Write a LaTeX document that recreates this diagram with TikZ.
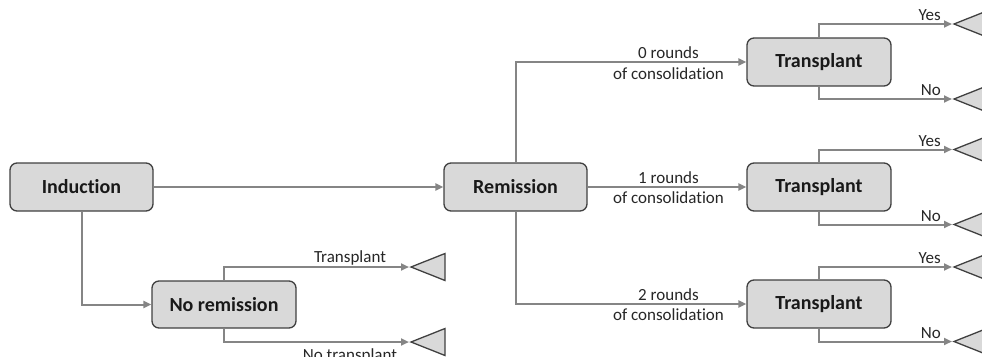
\documentclass[tikz,border=0pt]{standalone}
\usepackage{fontspec}
\setmainfont{Carlito}[Ligatures={NoCommon}]
\usetikzlibrary{arrows.meta}
\definecolor{boxfill}{HTML}{D9D9D9}
\definecolor{boxline}{HTML}{404040}
\definecolor{connc}{HTML}{858585}
\newcommand\leaftri[3]{\coordinate (#1) at (#2,#3);
  \draw[leafstyle] (#1) -- ++(34,-13.5) -- ++(0,27) -- cycle;}
\begin{document}
\begin{tikzpicture}[x=1pt,y=-1pt,
  box/.style={draw=boxline, line width=1.3pt, fill=boxfill, rounded corners=7pt,
    minimum width=143pt, minimum height=48pt, inner sep=0pt,
    font=\fontsize{20}{24}\selectfont\bfseries, text=black!90},
  conn/.style={draw=connc, line width=2pt, -{Triangle[length=8pt,width=7pt]}, shorten >=2pt},
  connb/.style={draw=connc, line width=2pt, -{Triangle[length=8pt,width=7pt]}},
  lbl/.style={font=\fontsize{17}{20}\selectfont, text=black!85, inner sep=0pt},
  leafstyle/.style={draw=boxline, line width=1.3pt, fill=boxfill, line join=miter}]
\useasboundingbox (0,0) rectangle (982,356);
\clip (0,0) rectangle (982,356);
% boxes
\node[box] (ind) at (81.5,187) {Induction};
\node[box] (rem) at (515.5,187) {Remission};
\node[box, minimum width=144pt, minimum height=47pt] (nor) at (224,304.5) {No remission};
\node[box, minimum width=144pt] (t0) at (819,62) {Transplant};
\node[box, minimum width=144pt] (t1) at (819,187) {Transplant};
\node[box, minimum width=144pt] (t2) at (819,304) {Transplant};
% leaves
\leaftri{nt}{411}{267}
\leaftri{nn}{411}{342}
\leaftri{y0}{954}{24}
\leaftri{n0}{954}{99}
\leaftri{y1}{954}{149.5}
\leaftri{n1}{954}{224.5}
\leaftri{y2}{954}{267}
\leaftri{n2}{954}{341.5}
% connectors
\draw[connb] (ind) -- (rem);
\draw[connb] (ind.south) |- (nor.west);
\draw[connb] (rem.north) |- (t0.west);
\draw[connb] (rem) -- (t1);
\draw[connb] (rem.south) |- (t2.west);
\draw[conn] (nor.north) |- (nt);
\draw[conn] (nor.south) |- (nn);
\draw[conn] (t0.north) |- (y0);
\draw[conn] (t0.south) |- (n0);
\draw[conn] (t1.north) |- (y1);
\draw[conn] (t1.south) |- (n1);
\draw[conn] (t2.north) |- (y2);
\draw[conn] (t2.south) |- (n2);
% labels
\node[lbl, anchor=base] (l0a) at (668.5,58) {0 rounds};
\node[lbl, anchor=base] (l0b) at (668.5,79) {of consolidation};
\node[lbl, anchor=base] (l1a) at (668.5,183) {1 rounds};
\node[lbl, anchor=base] (l1b) at (668.5,203.5) {of consolidation};
\node[lbl, anchor=base] (l2a) at (668.5,300) {2 rounds};
\node[lbl, anchor=base] (l2b) at (668.5,320.5) {of consolidation};
\node[lbl, anchor=base] (ltr) at (350,262) {Transplant};
\node[lbl, anchor=base] (lnt) at (350,360) {No transplant};
\node[lbl, anchor=base east] (ly0) at (941,20.5) {Yes};
\node[lbl, anchor=base east] (ln0) at (941,95) {No};
\node[lbl, anchor=base east] (ly1) at (941,146) {Yes};
\node[lbl, anchor=base east] (ln1) at (941,221) {No};
\node[lbl, anchor=base east] (ly2) at (941,263.5) {Yes};
\node[lbl, anchor=base east] (ln2) at (941,338) {No};
\end{tikzpicture}
\end{document}
